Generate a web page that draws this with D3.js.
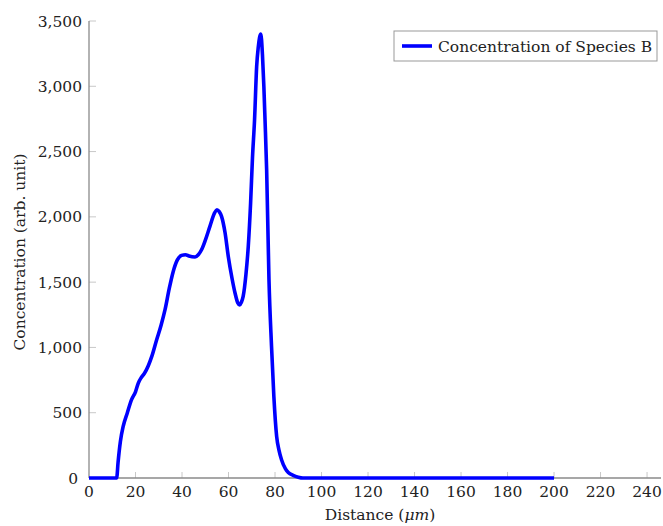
<!DOCTYPE html>
<html>
<head>
<meta charset="utf-8">
<script src="https://cdn.jsdelivr.net/npm/d3@7"></script>
<style>
  body { margin: 0; background: #fff; }
</style>
</head>
<body>
<div id="chart"></div>
<script>
// values
var distance = [0, 11.9, 12.5, 13.5, 14.7, 16.5, 18.3, 20, 21.2, 22.5, 23.8, 25.5, 27, 29.1, 31, 32.7,
  34.5, 36.2, 38, 39.8, 41.5, 43, 45.6, 47, 48.4, 50, 52, 54, 55, 56, 57, 58.5, 59.9, 61.5, 62.8,
  64, 64.8, 65.5, 66.3, 67.5, 68.5, 69.5, 70.3, 71.2, 72.1, 72.8, 73.9, 74.6, 75.2, 75.7, 76.4,
  77.4, 78.5, 79.5, 80.7, 81.7, 82.8, 84.5, 85.7, 87.8, 90, 92, 200];
var concentration = [0, 0, 120, 280, 395, 500, 600, 660, 727, 770, 800, 860, 931, 1059, 1170, 1289,
  1450, 1580, 1670, 1705, 1710, 1700, 1693, 1710, 1748, 1820, 1927, 2030, 2055, 2040, 2004, 1880, 1697, 1530, 1417,
  1340, 1325, 1345, 1391, 1560, 1774, 2106, 2450, 2744, 3150, 3300, 3400, 3240, 3000, 2744, 2361,
  1520, 1008, 625, 319, 213, 140, 70, 43, 20, 6, 0, 0];
var xTicks = [0, 20, 40, 60, 80, 100, 120, 140, 160, 180, 200, 220, 240];
var yTicks = [0, 500, 1000, 1500, 2000, 2500, 3000, 3500];
var seriesName = "Concentration of Species B";

var W = 663, H = 526;
var margin = { top: 21, right: 2, bottom: 48, left: 89 };
var serif = "'DejaVu Serif', 'Liberation Serif', serif";

var svg = d3.select("#chart").append("svg")
  .attr("width", W)
  .attr("height", H)
  .attr("font-family", serif)
  .style("font-family", serif);

var x = d3.scaleLinear().domain([0, 246]).range([margin.left, W - margin.right]);
var y = d3.scaleLinear().domain([0, 3500]).range([H - margin.bottom, margin.top]);

// tick marks (inside the axes)
svg.append("g")
  .selectAll("line")
  .data(xTicks.slice(1))
  .enter().append("line")
  .attr("x1", function(d) { return x(d); })
  .attr("x2", function(d) { return x(d); })
  .attr("y1", y(0))
  .attr("y2", y(0) - 6)
  .attr("stroke", "#c8c8c8")
  .attr("stroke-width", 1);

svg.append("g")
  .selectAll("line")
  .data(yTicks.slice(1))
  .enter().append("line")
  .attr("x1", x(0))
  .attr("x2", x(0) + 7)
  .attr("y1", function(d) { return y(d); })
  .attr("y2", function(d) { return y(d); })
  .attr("stroke", "#c8c8c8")
  .attr("stroke-width", 1);

// axis lines
svg.append("line")
  .attr("x1", x(0)).attr("x2", x(246))
  .attr("y1", y(0)).attr("y2", y(0))
  .attr("stroke", "#8a8a8a").attr("stroke-width", 1.3);
svg.append("line")
  .attr("x1", x(0)).attr("x2", x(0))
  .attr("y1", y(0)).attr("y2", y(3500))
  .attr("stroke", "#8a8a8a").attr("stroke-width", 1.3);

var fmt = d3.format(",");

// tick labels
svg.append("g")
  .selectAll("text")
  .data(xTicks)
  .enter().append("text")
  .attr("x", function(d) { return x(d); })
  .attr("y", y(0) + 19)
  .attr("text-anchor", "middle")
  .attr("fill", "#222")
  .style("font-size", "15.5px")
  .text(function(d) { return d; });

svg.append("g")
  .selectAll("text")
  .data(yTicks)
  .enter().append("text")
  .attr("x", function(d) { return d === 0 ? x(0) - 11 : x(0) - 7; })
  .attr("y", function(d) { return y(d) + 5.5; })
  .attr("text-anchor", "end")
  .attr("fill", "#222")
  .style("font-size", "15.5px")
  .text(function(d) { return fmt(d); });

// axis titles
svg.append("text")
  .attr("x", 380)
  .attr("y", 520)
  .attr("text-anchor", "middle")
  .attr("fill", "#222")
  .style("font-size", "15.5px")
  .html('Distance (<tspan font-style="italic">μm</tspan>)');

svg.append("text")
  .attr("transform", "translate(25,252) rotate(-90)")
  .attr("text-anchor", "middle")
  .attr("fill", "#222")
  .style("font-size", "15.5px")
  .text("Concentration (arb. unit)");

// the curve
var pts = distance.map(function(d, i) { return [d, concentration[i]]; });
var line = d3.line()
  .x(function(d) { return x(d[0]); })
  .y(function(d) { return y(d[1]); })
  .curve(d3.curveMonotoneX);

svg.append("path")
  .datum(pts)
  .attr("d", line)
  .attr("fill", "none")
  .attr("stroke", "#0000ff")
  .attr("stroke-width", 3.6)
  .attr("stroke-linejoin", "round");

// legend
var lg = svg.append("g").attr("transform", "translate(394,31)");
lg.append("rect")
  .attr("width", 263).attr("height", 30)
  .attr("fill", "#fff")
  .attr("stroke", "#999").attr("stroke-width", 1);
lg.append("line")
  .attr("x1", 8).attr("x2", 38)
  .attr("y1", 15).attr("y2", 15)
  .attr("stroke", "#0000ff").attr("stroke-width", 3.6);
lg.append("text")
  .attr("x", 44).attr("y", 21)
  .attr("fill", "#222")
  .style("font-size", "15.5px")
  .text(seriesName);
</script>
</body>
</html>
